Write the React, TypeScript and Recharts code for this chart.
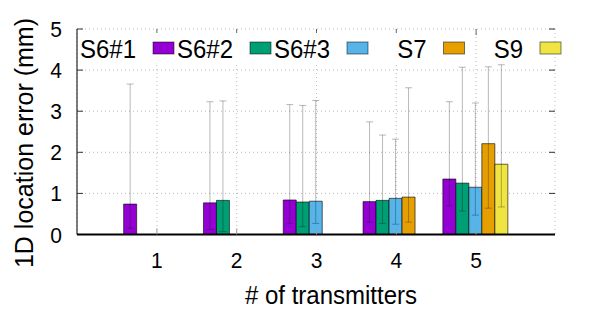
import React from "react";
import { BarChart, Bar, XAxis, YAxis, CartesianGrid, ErrorBar } from "recharts";

const transmitters = ["1", "2", "3", "4", "5"];
const seriesNames = ["S6#1", "S6#2", "S6#3", "S7", "S9"];
const seriesColors = ["#9400d3", "#009e73", "#56b4e9", "#e69f00", "#f0e442"];
const yTicks = [0, 1, 2, 3, 4, 5];

// mean 1D error (mm) per transmitter count, null where a setup has no bar
const s61Mean = [0.74, 0.77, 0.84, 0.8, 1.35];
const s62Mean = [null, 0.83, 0.79, 0.83, 1.25];
const s63Mean = [null, null, 0.81, 0.88, 1.15];
const s7Mean = [null, null, null, 0.91, 2.21];
const s9Mean = [null, null, null, null, 1.71];

// min / max of each error bar
const s61Low = [0.15, 0.12, 0.27, 0.3, 0.7];
const s61High = [3.66, 3.23, 3.16, 2.74, 3.23];
const s62Low = [null, 0.07, 0.19, 0.27, 0.57];
const s62High = [null, 3.25, 3.14, 2.42, 4.07];
const s63Low = [null, null, 0.27, 0.25, 0.47];
const s63High = [null, null, 3.26, 2.32, 3.2];
const s7Low = [null, null, null, 0.3, 0.64];
const s7High = [null, null, null, 3.57, 4.08];
const s9Low = [null, null, null, null, 0.67];
const s9High = [null, null, null, null, 4.13];

const means = [s61Mean, s62Mean, s63Mean, s7Mean, s9Mean];
const lows = [s61Low, s62Low, s63Low, s7Low, s9Low];
const highs = [s61High, s62High, s63High, s7High, s9High];

const data = transmitters.map((n, i) => {
  const row: Record<string, any> = { n };
  means.forEach((m, k) => {
    const v = m[i];
    row[`s${k}`] = v;
    row[`e${k}`] =
      v == null ? undefined : [v - (lows[k][i] as number), (highs[k][i] as number) - v];
  });
  return row;
});

const FONT = "'Liberation Sans', Arial, sans-serif";
const TOP = 29;
const LEFT = 77;
const RIGHT = 555;

const XTick = (props: any) => {
  const { x, y, payload } = props;
  return (
    <g>
      <line x1={x} x2={x} y1={y} y2={y - 6} stroke="#999" />
      <line x1={x} x2={x} y1={TOP} y2={TOP + 6} stroke="#666" />
      <text
        transform={`translate(${x}, ${y + 33}) scale(1, 1.06)`}
        textAnchor="middle"
        fontSize={21}
        fontFamily={FONT}
        fill="#000"
      >
        {payload.value}
      </text>
    </g>
  );
};

const YTick = (props: any) => {
  const { x, y, payload } = props;
  return (
    <g>
      {payload.value > 0 && (
        <>
          <line x1={x} x2={x + 6} y1={y} y2={y} stroke="#333" />
          <line x1={RIGHT - 6} x2={RIGHT} y1={y} y2={y} stroke="#333" />
        </>
      )}
      <text
        transform={`translate(${x - 15}, ${y + 8}) scale(1, 1.06)`}
        textAnchor="end"
        fontSize={21}
        fontFamily={FONT}
        fill="#000"
      >
        {payload.value}
      </text>
    </g>
  );
};

// key: label right-aligned before its swatch, one column every ~97px
const keyX = [153, 250, 347, 443.5, 540];

export default function App() {
  return (
    <div style={{ position: "absolute", left: 0, top: 0, width: 600, height: 315, background: "#fff" }}>
      <BarChart
        width={600}
        height={315}
        data={data}
        margin={{ top: TOP, right: 600 - RIGHT, left: 17, bottom: 40.5 }}
        barCategoryGap="8.33%"
        barGap={0}
      >
        <CartesianGrid stroke="#bbb" strokeDasharray="1 3" />
        <XAxis
          dataKey="n"
          height={40}
          padding={{ left: 40, right: 39 }}
          tickSize={0}
          tickMargin={0}
          tickLine={false}
          tick={<XTick />}
          axisLine={{ stroke: "#000", strokeWidth: 1.8 }}
        />
        <YAxis
          width={60}
          domain={[0, 5]}
          ticks={yTicks}
          tickSize={0}
          tickMargin={0}
          tickLine={false}
          tick={<YTick />}
          axisLine={{ stroke: "#000", strokeWidth: 1 }}
        />
        {seriesNames.map((name, k) => (
          <Bar
            key={name}
            dataKey={`s${k}`}
            name={name}
            fill={seriesColors[k]}
            stroke="rgba(0,0,0,0.6)"
            strokeWidth={1}
            isAnimationActive={false}
          >
            <ErrorBar
              dataKey={`e${k}`}
              width={3.5}
              stroke="#000"
              strokeOpacity={0.28}
              strokeWidth={1}
              direction="y"
            />
          </Bar>
        ))}
      </BarChart>
      <svg
        width={600}
        height={315}
        style={{ position: "absolute", left: 0, top: 0, pointerEvents: "none" }}
        fontFamily={FONT}
      >
        <rect x={LEFT + 1} y={TOP + 4} width={390} height={31} fill="#fff" />
        {seriesNames.map((name, k) => (
          <g key={name}>
            <text
              transform={`translate(${keyX[k] - 17}, 57.7) scale(1, 1.1)`}
              textAnchor="end"
              fontSize={24}
            >
              {name}
            </text>
            <rect
              x={keyX[k]}
              y={42}
              width={21}
              height={12}
              fill={seriesColors[k]}
              stroke="rgba(0,0,0,0.5)"
              strokeWidth={1}
            />
          </g>
        ))}
        <text transform="translate(331, 304) scale(1, 1.06)" textAnchor="middle" fontSize={24}>
          # of transmitters
        </text>
        <text transform="translate(33, 143) rotate(-90)" textAnchor="middle" fontSize={25}>
          1D location error (mm)
        </text>
      </svg>
    </div>
  );
}
